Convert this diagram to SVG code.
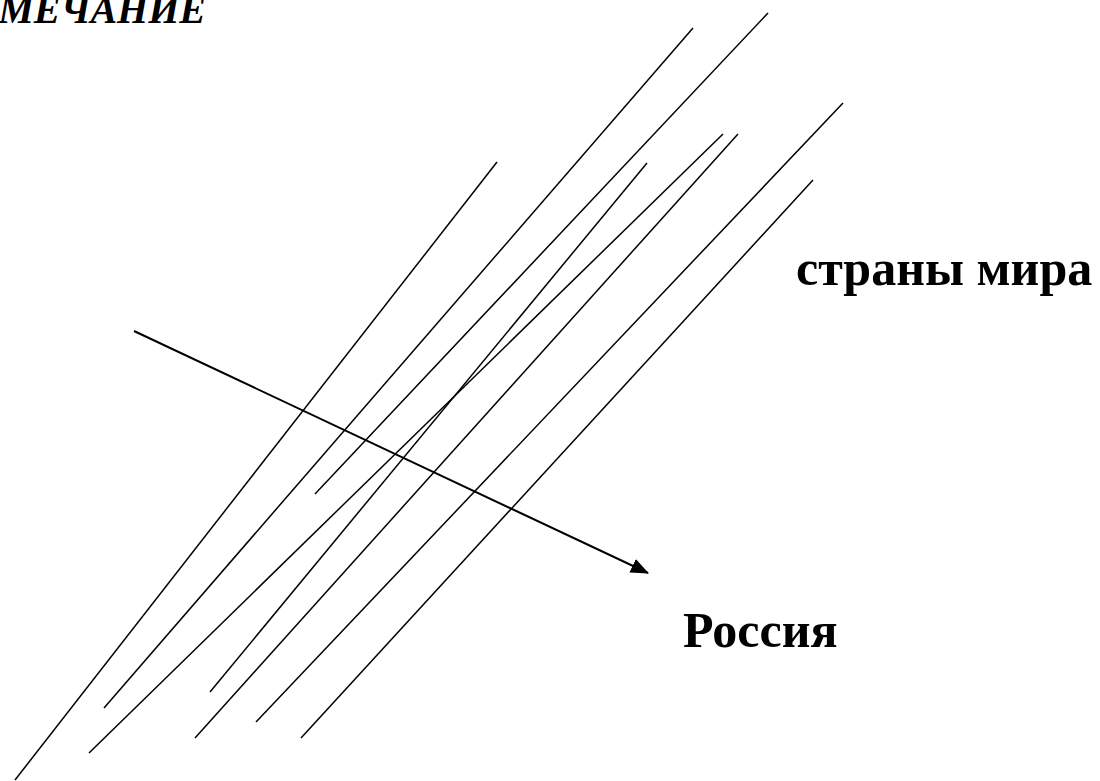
<svg xmlns="http://www.w3.org/2000/svg" width="1100" height="781" viewBox="0 0 1100 781">
<style>
.ln{stroke:#000;stroke-width:1.5;fill:none;stroke-linecap:butt}
.ar{stroke:#000;stroke-width:2;fill:none}
.t{font-family:"Liberation Serif","Times New Roman",serif;font-weight:bold;fill:#000}
</style>
<defs>
<marker id="ah" markerWidth="18" markerHeight="15" refX="17" refY="7.5" orient="auto" markerUnits="userSpaceOnUse" viewBox="0 0 18 15">
<path d="M0,0 L18,7.5 L0,15 z" fill="#000"/>
</marker>
</defs>
<rect width="1100" height="781" fill="#fff"/>
<g id="title"><text class="t" x="206" y="23" font-size="40" font-style="italic" text-anchor="end">МЕЧАНИЕ</text></g>
<g id="connectors">
<line class="ln" x1="15" y1="780" x2="497" y2="162"/>
<line class="ln" x1="104" y1="708" x2="693" y2="28"/>
<line class="ln" x1="89" y1="753" x2="723" y2="134"/>
<line class="ln" x1="210" y1="692" x2="647" y2="163"/>
<line class="ln" x1="195" y1="738" x2="738" y2="134"/>
<line class="ln" x1="256" y1="722" x2="843" y2="103"/>
<line class="ln" x1="301" y1="738" x2="813" y2="180"/>
<line class="ln" x1="315" y1="494" x2="768" y2="13"/>
<line class="ar" x1="134" y1="331" x2="648" y2="573" marker-end="url(#ah)"/>
</g>
<g id="countries"><text class="t" x="796" y="285" font-size="50">страны мира</text></g>
<g id="russia"><text class="t" x="683" y="647" font-size="50">Россия</text></g>
</svg>
